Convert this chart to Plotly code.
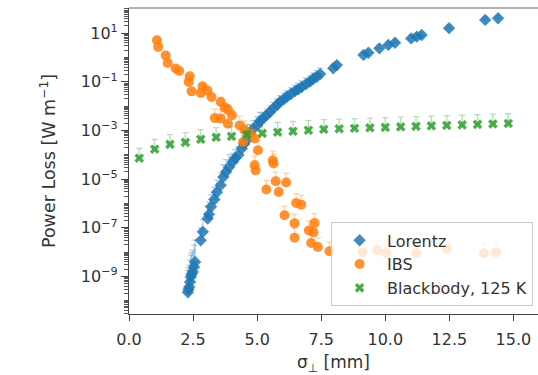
import plotly.graph_objects as go

# ---------------- data ----------------
lorentz_sigma = [2.30, 2.32, 2.35, 2.38, 2.41, 2.44, 2.49, 2.54, 2.58, 2.80,
                 2.88, 3.07, 3.12, 3.20, 3.33, 3.43, 3.58, 3.68, 3.79, 3.91,
                 4.05, 4.14, 4.27, 4.40, 4.49, 4.59, 4.72, 4.84, 5.00, 5.11,
                 5.23, 5.37, 5.50, 5.63, 5.78, 5.89, 6.05, 6.16, 6.32, 6.48,
                 6.60, 6.74, 6.91, 7.06, 7.18, 7.33, 7.46, 7.97, 8.11, 9.15,
                 9.34, 9.77, 10.12, 10.38, 11.01, 11.23, 11.42, 12.49, 13.90, 14.40]
lorentz_log10 = [-9.66, -9.54, -9.44, -9.23, -9.03, -8.92, -8.82, -8.62, -8.41, -7.52,
                 -7.17, -6.62, -6.45, -6.14, -5.84, -5.54, -5.25, -4.91, -4.70, -4.50,
                 -4.29, -4.14, -4.01, -3.74, -3.56, -3.40, -3.12, -2.94, -2.78, -2.61,
                 -2.51, -2.37, -2.24, -2.09, -1.95, -1.82, -1.71, -1.61, -1.50, -1.38,
                 -1.31, -1.21, -1.09, -0.99, -0.88, -0.79, -0.68, -0.44, -0.31, 0.11,
                 0.20, 0.38, 0.52, 0.61, 0.79, 0.86, 0.93, 1.21, 1.55, 1.62]
lorentz_err_dec = [0.9] * 9 + [0.5] * 11 + [0.35] * 10 + [0.25] * 17 + [0.12] * 13

ibs_sigma = [1.09, 1.14, 1.43, 1.51, 1.82, 1.96, 2.37, 2.33, 2.44, 2.87,
             2.80, 3.06, 3.22, 3.58, 3.74, 3.86, 4.02, 3.35, 3.58, 3.86,
             4.32, 4.51, 4.71, 4.45, 4.90, 5.03, 4.90, 4.94, 5.61, 5.64,
             5.36, 5.72, 6.13, 5.84, 6.07, 6.52, 6.72, 6.46, 6.46, 7.24,
             7.02, 7.20, 7.11, 7.37, 7.82, 9.11, 9.69, 10.04, 11.21, 12.41,
             13.85, 14.32]
ibs_log10 = [0.71, 0.44, 0.09, -0.22, -0.45, -0.55, -0.77, -1.00, -1.39, -1.18,
             -1.46, -1.35, -1.62, -1.83, -2.06, -2.14, -2.37, -2.49, -2.51, -2.72,
             -2.79, -2.99, -3.13, -3.47, -3.33, -3.81, -4.43, -4.64, -4.23, -4.36,
             -5.43, -5.09, -5.14, -5.53, -6.49, -5.98, -6.05, -6.82, -7.41, -6.81,
             -7.11, -7.19, -7.63, -7.79, -7.97, -8.01, -7.93, -8.05, -8.05, -7.85,
             -8.05, -8.01]
ibs_err_dec = [0.08] * 13 + [0.2] * 4 + [0.38] * 35

bb_sigma = [0.4, 1.0, 1.6, 2.2, 2.8, 3.4, 4.0, 4.6, 5.2, 5.8, 6.4, 7.0, 7.6,
            8.2, 8.8, 9.4, 10.0, 10.6, 11.2, 11.8, 12.4, 13.0, 13.6, 14.2, 14.8]
bb_log10 = [-4.14, -3.77, -3.57, -3.49, -3.36, -3.28, -3.24, -3.16, -3.12, -3.07,
            -3.03, -2.99, -2.95, -2.93, -2.91, -2.89, -2.87, -2.85, -2.83, -2.81,
            -2.79, -2.77, -2.75, -2.73, -2.71]
bb_err_dec = [0.4] * 25

x_tick_vals = [0, 2.5, 5.0, 7.5, 10.0, 12.5, 15.0]
x_tick_text = ["0.0", "2.5", "5.0", "7.5", "10.0", "12.5", "15.0"]
y_major_exp = [1, -1, -3, -5, -7, -9]

series_names = ["Lorentz", "IBS", "Blackbody, 125 K"]
series_colors = ["#1f77b4", "#ff7f0e", "#2ca02c"]
err_colors = ["rgba(31,119,180,0.35)", "rgba(255,127,14,0.35)", "rgba(44,160,44,0.35)"]


def to_power(logs):
    return [10 ** v for v in logs]


def upper_err(logs, decs):
    return [10 ** v * (10 ** d - 1) for v, d in zip(logs, decs)]


FONT = "DejaVu Sans"
TXT = "#333333"

fig = go.Figure()

specs = [
    (lorentz_sigma, lorentz_log10, lorentz_err_dec, "diamond", 9.5),
    (ibs_sigma, ibs_log10, ibs_err_dec, "circle", 10),
    (bb_sigma, bb_log10, bb_err_dec, "x", 8.5),
]
for i, (xs, ls, ed, sym, sz) in enumerate(specs):
    fig.add_trace(go.Scatter(
        x=xs, y=to_power(ls), mode="markers", name=series_names[i],
        legendgroup=series_names[i],
        marker=dict(symbol=sym, size=sz, color=series_colors[i], opacity=0.85,
                    line=dict(width=0)),
        error_y=dict(type="data", symmetric=False, array=upper_err(ls, ed),
                     arrayminus=[0] * len(ls), color=err_colors[i],
                     thickness=1.3, width=3),
    ))

# y ticks
major_vals = [10.0 ** e for e in y_major_exp]
major_text = [f"10<sup>{str(e).replace('-', '−')}</sup>" for e in y_major_exp]
minor_vals = []
for k in range(-11, 3):
    for m in range(1, 10):
        if m == 1 and k in y_major_exp:
            continue
        minor_vals.append(m * 10.0 ** k)

fig.update_layout(
    width=538, height=375,
    margin=dict(l=129, r=0, t=8, b=61),
    paper_bgcolor="white", plot_bgcolor="white",
    font=dict(family=FONT, color=TXT, size=16),
    showlegend=True,
    legend=dict(x=0.988, y=0.025, xanchor="right", yanchor="bottom",
                bgcolor="rgba(255,255,255,0.8)", bordercolor="#cccccc",
                borderwidth=1, font=dict(size=16, family=FONT, color=TXT),
                tracegroupgap=0, itemwidth=45),
    xaxis=dict(
        range=[0, 15.96], tickmode="array", tickvals=x_tick_vals,
        ticktext=x_tick_text, ticks="outside", ticklen=6, tickwidth=1.2,
        tickcolor="#444", showline=True, linecolor="#444", linewidth=1.2,
        showgrid=False, zeroline=False, ticklabelstandoff=5,
        tickfont=dict(size=16),
        title=dict(text="σ<sub>⊥</sub> [mm]", font=dict(size=17), standoff=9),
    ),
    yaxis=dict(
        type="log", range=[-10.55, 2.04], tickmode="array",
        tickvals=major_vals, ticktext=major_text, ticks="outside",
        ticklen=7, tickwidth=1.2, tickcolor="#444", showline=True,
        linecolor="#444", linewidth=1.2, showgrid=False, zeroline=False,
        tickfont=dict(size=16),
        minor=dict(tickmode="array", tickvals=minor_vals, ticks="outside",
                   ticklen=4, tickwidth=1, tickcolor="#555"),
        title=dict(text="Power Loss [W m<sup>−1</sup>]", font=dict(size=17.5),
                   standoff=20),
    ),
)

fig.add_shape(type="line", xref="paper", yref="paper", x0=0, x1=1, y0=1, y1=1,
              line=dict(color="#999", width=1.5))

fig.write_html("out.html")
